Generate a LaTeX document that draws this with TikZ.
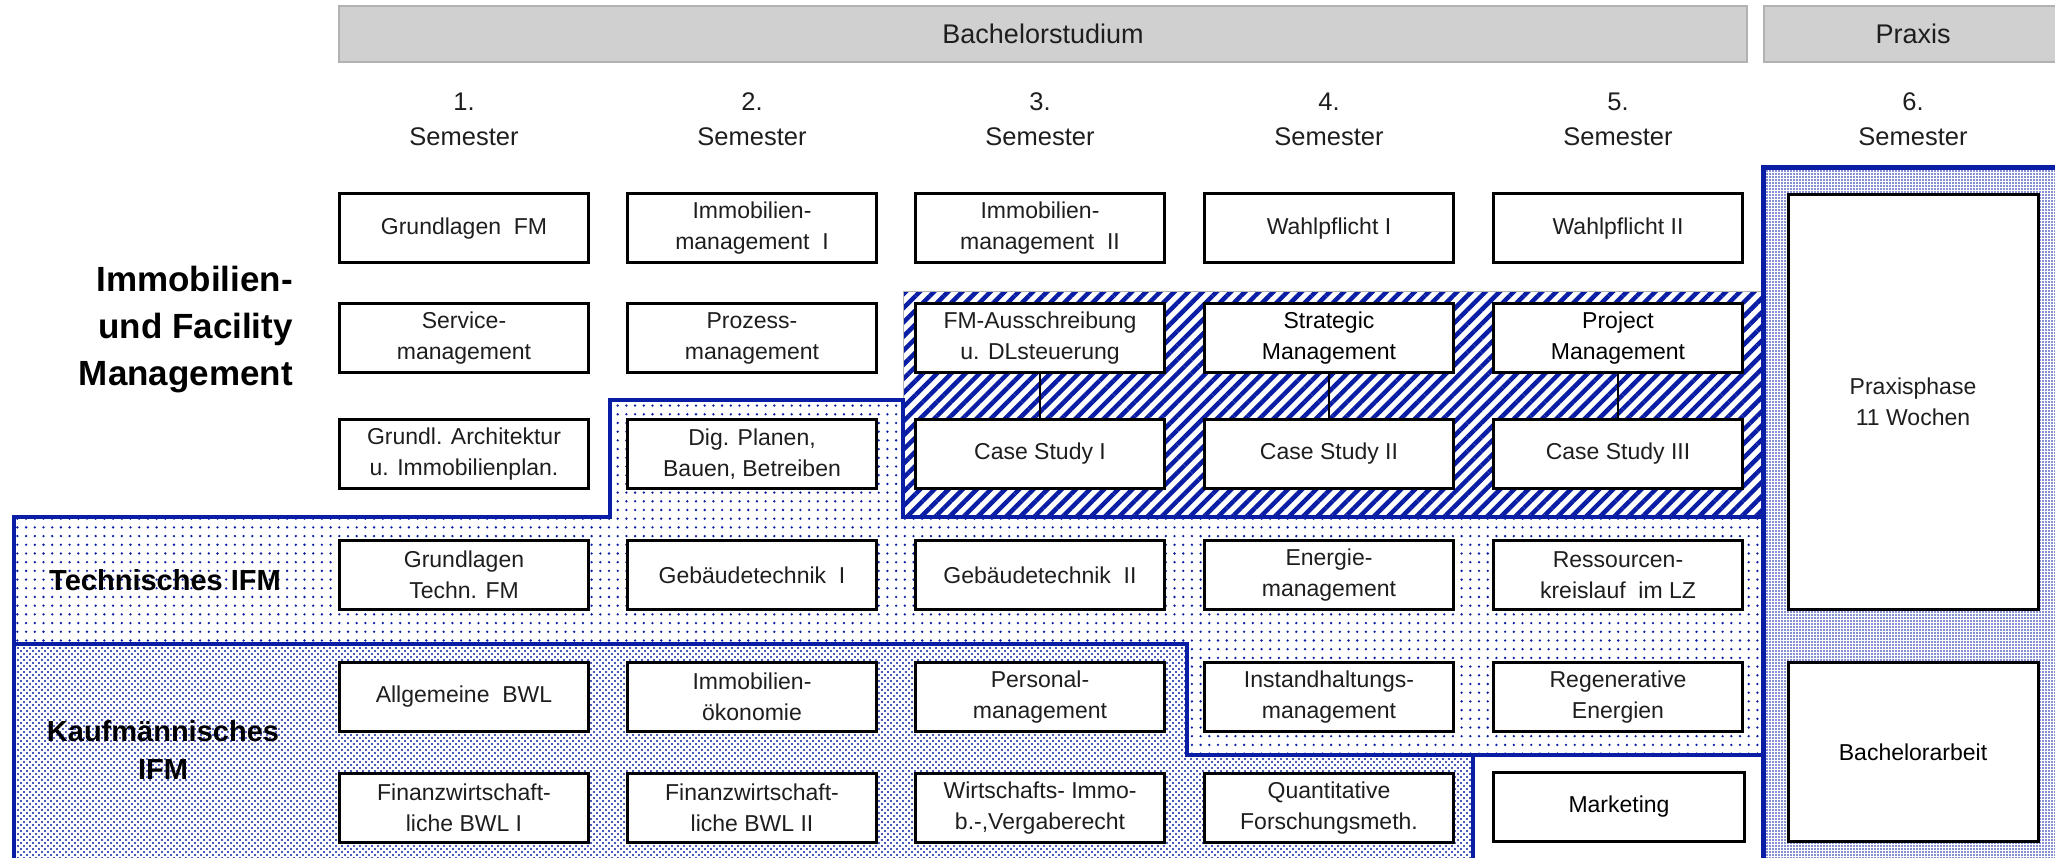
\documentclass[tikz,border=0pt]{standalone}
\usepackage{fontspec}
\setmainfont{Liberation Sans}
\usetikzlibrary{patterns.meta}
\definecolor{ifmblue}{RGB}{10,30,165}
\definecolor{hdrgray}{RGB}{208,208,208}
\definecolor{hdredge}{RGB}{178,178,178}
\definecolor{txtgray}{RGB}{30,30,30}
\begin{document}
\begin{tikzpicture}[x=1pt,y=-1pt,
  course/.style={draw=black, line width=3pt, fill=white, minimum width=249pt, minimum height=69pt,
    inner sep=0pt, align=center, text=txtgray, font=\fontsize{23}{31}\selectfont},
  hdrbar/.style={draw=hdredge, line width=1.5pt, fill=hdrgray, minimum height=56pt, inner sep=0pt,
    text=txtgray, font=\fontsize{27}{32}\selectfont},
  semlabel/.style={align=center, text=txtgray, inner sep=0pt, font=\fontsize{25.5}{35}\selectfont},
  sidelabel/.style={inner sep=0pt, font=\bfseries\fontsize{29}{38}\selectfont, align=center},
  conn/.style={draw=black, line width=2pt},
  regionline/.style={draw=ifmblue, line width=4pt},
  sparsedots/.style={pattern={Dots[distance=8.7pt,radius=1.3pt]}, pattern color=ifmblue},
  densedotsA/.style={pattern={Dots[distance=6pt,radius=1.1pt]}, pattern color=ifmblue},
  densedotsB/.style={pattern={Dots[distance=6pt,radius=1.1pt,xshift=3pt,yshift=3pt]}, pattern color=ifmblue},
  finedots/.style={pattern={Dots[distance=3pt,radius=0.95pt]}, pattern color=ifmblue},
  hatching/.style={pattern={Lines[angle=45,distance=10pt,line width=4.5pt]}, pattern color=ifmblue}
]
\useasboundingbox (0,0) rectangle (2055,858);

% ---------- regions ----------
\fill[sparsedots] (14,517) -- (610,517) -- (610,400) -- (903,400) -- (903,517) -- (1763,517)
   -- (1763,755) -- (1187,755) -- (1187,644) -- (14,644) -- cycle;
\fill[densedotsA] (14,644) -- (1187,644) -- (1187,755) -- (1473,755) -- (1473,870) -- (14,870) -- cycle;
\fill[densedotsB] (14,644) -- (1187,644) -- (1187,755) -- (1473,755) -- (1473,870) -- (14,870) -- cycle;
\fill[hatching] (903,292) rectangle (1763,517);
\fill[finedots] (1763,168) rectangle (2070,870);

\draw[draw=gray!60, line width=1pt] (903,400) -- (903,292) -- (1763,292);
\draw[regionline, line join=miter] (14,870) -- (14,517) -- (610,517) -- (610,400) -- (903,400) -- (903,517) -- (1763,517);
\draw[regionline, line join=miter] (14,644) -- (1187,644) -- (1187,755) -- (1473,755) -- (1473,870);
\draw[regionline] (1473,755) -- (1763,755);
\draw[regionline, line width=5pt, line join=miter] (1763,870) -- (1763,168) -- (2070,168);

% ---------- header ----------
\node[hdrbar, minimum width=1408pt] (bach) at (1043,34) {Bachelorstudium};
\node[hdrbar, minimum width=298pt] (prax) at (1913,34) {Praxis};

\node[semlabel] (s1) at (464,119) {1.\\Semester};
\node[semlabel] (s2) at (752,119) {2.\\Semester};
\node[semlabel] (s3) at (1040,119) {3.\\Semester};
\node[semlabel] (s4) at (1329,119) {4.\\Semester};
\node[semlabel] (s5) at (1618,119) {5.\\Semester};
\node[semlabel] (s6) at (1913,119) {6.\\Semester};

% ---------- side labels ----------
\node[inner sep=0pt, align=right, anchor=east, font=\bfseries\fontsize{35}{47}\selectfont] (ifm) at (293,330)
  {Immobilien-\\und Facility\\Management};
\node[sidelabel] (tech) at (165,580) {Technisches IFM};
\node[sidelabel] (kfm) at (163,750) {Kaufmännisches\\IFM};

% ---------- courses ----------
% row 1
\node[course] (r1c1) at (464,228.5) {Grundlagen\ \ FM};
\node[course] (r1c2) at (752,228.5) {Immobilien-\\management\ \ I};
\node[course] (r1c3) at (1040,228.5) {Immobilien-\\management\ \ II};
\node[course] (r1c4) at (1329,228.5) {Wahlpflicht I};
\node[course] (r1c5) at (1618,228.5) {Wahlpflicht II};
% row 2
\node[course] (r2c1) at (464,338) {Service-\\management};
\node[course] (r2c2) at (752,338) {Prozess-\\management};
\node[course] (r2c3) at (1040,338) {FM-Ausschreibung\\u. DLsteuerung};
\node[course, text=black] (r2c4) at (1329,338) {Strategic\\Management};
\node[course, text=black] (r2c5) at (1618,338) {Project\\Management};
% row 3
\node[course] (r3c1) at (464,454) {Grundl. Architektur\\u. Immobilienplan.};
\node[course] (r3c2) at (752,454) {Dig. Planen,\\Bauen, Betreiben};
\node[course] (r3c3) at (1040,454) {Case Study I};
\node[course] (r3c4) at (1329,454) {Case Study II};
\node[course] (r3c5) at (1618,454) {Case Study III};
% row 4
\node[course] (r4c1) at (464,575) {Grundlagen\\Techn. FM};
\node[course] (r4c2) at (752,575) {Gebäudetechnik\ \ I};
\node[course] (r4c3) at (1040,575) {Gebäudetechnik\ \ II};
\node[course] (r4c4) at (1329,575) {Energie-\\management};
\node[course] (r4c5) at (1618,575) {Ressourcen-\\kreislauf\ \ im LZ};
% row 5
\node[course] (r5c1) at (464,697) {Allgemeine\ \ BWL};
\node[course] (r5c2) at (752,697) {Immobilien-\\ökonomie};
\node[course] (r5c3) at (1040,697) {Personal-\\management};
\node[course] (r5c4) at (1329,697) {Instandhaltungs-\\management};
\node[course] (r5c5) at (1618,697) {Regenerative\\Energien};
% row 6
\node[course] (r6c1) at (464,808) {Finanzwirtschaft-\\liche BWL I};
\node[course] (r6c2) at (752,808) {Finanzwirtschaft-\\liche BWL II};
\node[course] (r6c3) at (1040,808) {Wirtschafts- Immo-\\b.-,Vergaberecht};
\node[course] (r6c4) at (1329,808) {Quantitative\\Forschungsmeth.};
\node[course, text=black, minimum width=251pt] (r6c5) at (1619,807) {Marketing};
% Praxis
\node[course, minimum width=250pt, minimum height=415pt] (praxis) at (1913,402) {Praxisphase\\11 Wochen};
\node[course, text=black, minimum width=250pt, minimum height=179pt] (ba) at (1913,752) {Bachelorarbeit};

% ---------- connectors ----------
\draw[conn] (r2c3) -- (r3c3);
\draw[conn] (r2c4) -- (r3c4);
\draw[conn] (r2c5) -- (r3c5);
\end{tikzpicture}
\end{document}
